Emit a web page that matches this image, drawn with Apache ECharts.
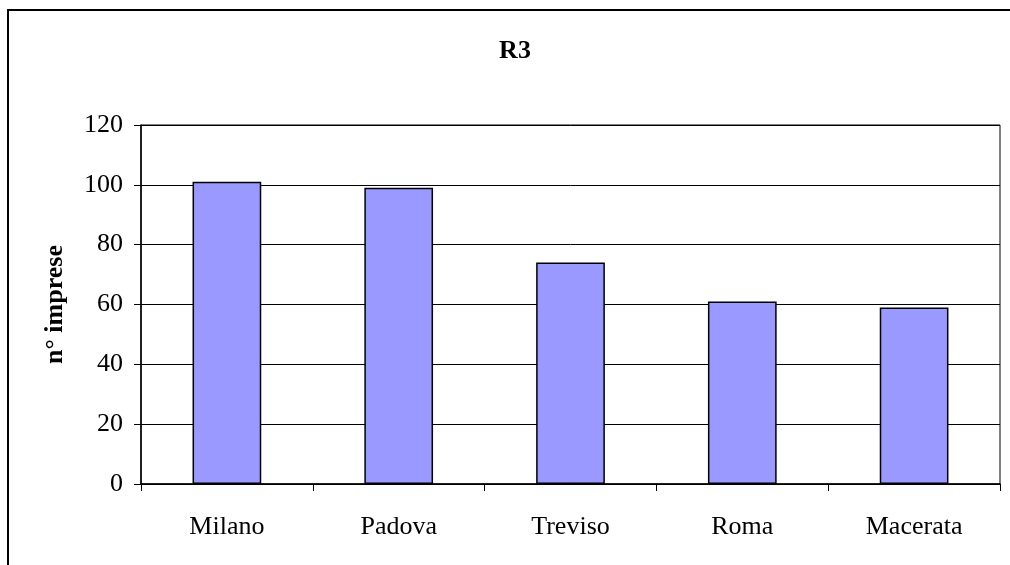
<!DOCTYPE html>
<html>
<head>
<meta charset="utf-8">
<title>R3</title>
<script src="https://cdn.jsdelivr.net/npm/echarts@6/dist/echarts.min.js"></script>
<style>
  html, body { margin: 0; padding: 0; background: #fff; }
  #chart { width: 1010px; height: 565px; }
</style>
</head>
<body>
<div id="chart"></div>
<script>
const cities = ["Milano", "Padova", "Treviso", "Roma", "Macerata"];
const imprese = [101, 99, 74, 61, 59];
const yTicks = [0, 20, 40, 60, 80, 100, 120];

const font = "'Liberation Serif', 'Times New Roman', serif";
const chart = echarts.init(document.getElementById("chart"));

chart.setOption({
  backgroundColor: "#fff",
  animation: false,
  title: {
    text: "R3",
    left: 510,
    top: 33,
    textAlign: "center",
    textStyle: { fontFamily: font, fontSize: 26, fontWeight: "bold", color: "#000" }
  },
  // frame of the chart area (only top and left edges are inside the picture)
  graphic: [
    {
      type: "polyline",
      shape: { points: [[8, 600], [8, 10], [1040, 10]] },
      style: { stroke: "#000", lineWidth: 2, fill: null }
    }
  ],
  grid: {
    left: 141,
    right: 10,
    top: 125,
    height: 359,
    show: true,
    borderColor: "#000",
    borderWidth: 1,
    backgroundColor: "#fff"
  },
  xAxis: {
    type: "category",
    data: cities,
    axisLine: { lineStyle: { color: "#000", width: 1.5 } },
    axisTick: { show: true, length: 7, lineStyle: { color: "#000" } },
    axisLabel: { fontFamily: font, fontSize: 26, color: "#000", margin: 30 },
    splitLine: { show: false }
  },
  yAxis: {
    type: "value",
    min: yTicks[0],
    max: yTicks[yTicks.length - 1],
    interval: 20,
    name: "n° imprese",
    nameLocation: "middle",
    nameGap: 73,
    nameTextStyle: { fontFamily: font, fontSize: 26, fontWeight: "bold", color: "#000" },
    axisLine: { show: true, lineStyle: { color: "#000", width: 1.5 } },
    axisTick: { show: true, length: 7, lineStyle: { color: "#000" } },
    axisLabel: { fontFamily: font, fontSize: 26, color: "#000", margin: 18 },
    splitLine: { show: true, lineStyle: { color: "#000", width: 1 } }
  },
  series: [
    {
      type: "bar",
      data: imprese,
      barWidth: "40%",
      itemStyle: { color: "#9999ff", borderColor: "#000", borderWidth: 1.5 }
    }
  ]
});
</script>
</body>
</html>
